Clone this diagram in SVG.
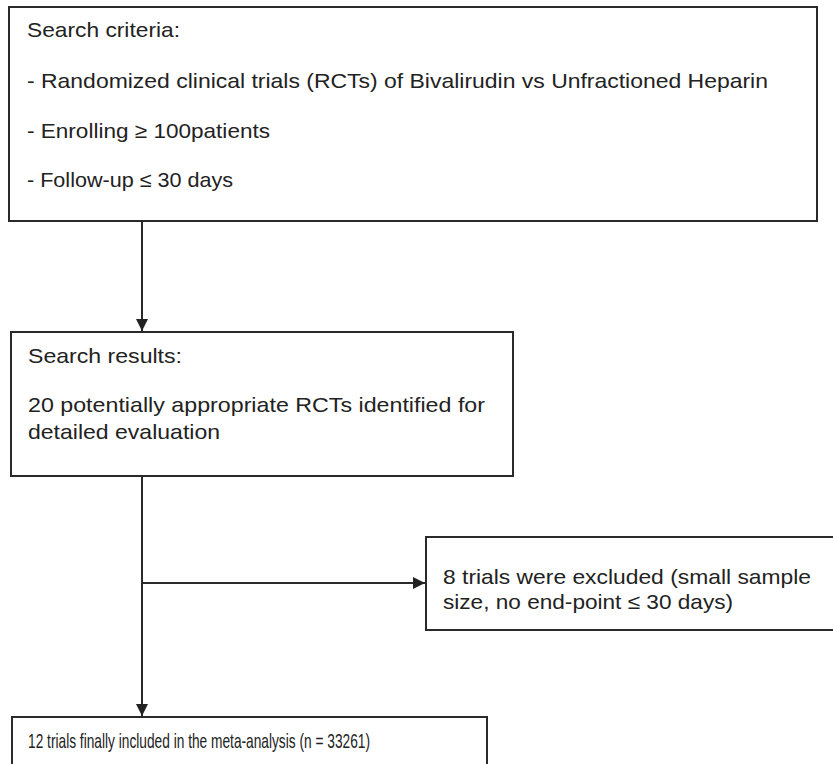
<svg xmlns="http://www.w3.org/2000/svg" width="833" height="764" viewBox="0 0 833 764">
<style>
.box{fill:#fff;stroke:#2a2a2a;stroke-width:2}
.t{font-family:"Liberation Sans",Arial,sans-serif;font-size:21px;fill:#222}
.c{stroke:#2a2a2a;stroke-width:2;fill:none}
</style>
<defs>
<marker id="ah" viewBox="0 0 10 10" refX="10" refY="5" markerWidth="6.5" markerHeight="6" markerUnits="strokeWidth" orient="auto">
<path d="M0,0 L10,5 L0,10 z" fill="#222"/>
</marker>
</defs>
<rect width="833" height="764" fill="#fff"/>
<g id="connectors">
<line class="c" x1="142" y1="221" x2="142" y2="331" marker-end="url(#ah)"/>
<line class="c" x1="142" y1="476" x2="142" y2="716" marker-end="url(#ah)"/>
<line class="c" x1="142" y1="583" x2="425" y2="583" marker-end="url(#ah)"/>
</g>
<g id="criteria">
<rect class="box" x="9" y="7" width="808" height="214"/>
<text class="t" x="27" y="37" textLength="153" lengthAdjust="spacingAndGlyphs">Search criteria:</text>
<text class="t" x="27" y="88" textLength="741" lengthAdjust="spacingAndGlyphs">- Randomized clinical trials (RCTs) of Bivalirudin vs Unfractioned Heparin</text>
<text class="t" x="27" y="138" textLength="243" lengthAdjust="spacingAndGlyphs">- Enrolling ≥ 100patients</text>
<text class="t" x="27" y="187" textLength="206" lengthAdjust="spacingAndGlyphs">- Follow-up ≤ 30 days</text>
</g>
<g id="results">
<rect class="box" x="11" y="332" width="502" height="144"/>
<text class="t" x="28" y="363" textLength="154" lengthAdjust="spacingAndGlyphs">Search results:</text>
<text class="t" x="28" y="412" textLength="457" lengthAdjust="spacingAndGlyphs">20 potentially appropriate RCTs identified for</text>
<text class="t" x="28" y="439" textLength="192" lengthAdjust="spacingAndGlyphs">detailed evaluation</text>
</g>
<g id="excluded">
<rect class="box" x="426" y="537" width="420" height="93"/>
<text class="t" x="443" y="584" textLength="368" lengthAdjust="spacingAndGlyphs">8 trials were excluded (small sample</text>
<text class="t" x="443" y="609" textLength="290" lengthAdjust="spacingAndGlyphs">size, no end-point ≤ 30 days)</text>
</g>
<g id="included">
<rect class="box" x="12" y="717" width="475" height="60"/>
<text class="t" x="28" y="748" textLength="342" lengthAdjust="spacingAndGlyphs">12 trials finally included in the meta-analysis (n = 33261)</text>
</g>
</svg>
